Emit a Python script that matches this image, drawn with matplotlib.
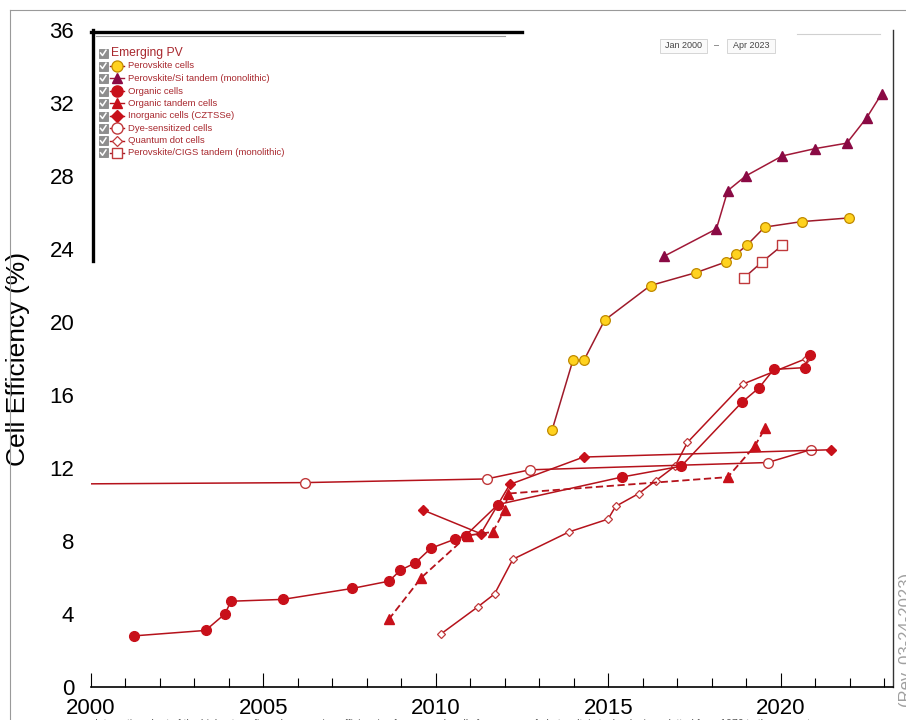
import matplotlib
matplotlib.use("Agg")
from matplotlib import pyplot as plt
from matplotlib.lines import Line2D
from matplotlib.patches import Rectangle

W, H = 906, 720

# ---- values: (year, efficiency %) ----
perovskite_x = [2013.37, 2013.97, 2014.29, 2014.89, 2016.22, 2017.53, 2018.42, 2018.69, 2019.01, 2019.53, 2020.60, 2021.96]
perovskite_y = [14.1, 17.9, 17.9, 20.1, 22.0, 22.7, 23.3, 23.7, 24.2, 25.2, 25.5, 25.7]

pvsi_x = [2016.61, 2018.13, 2018.46, 2018.98, 2020.04, 2020.99, 2021.91, 2022.49, 2022.92]
pvsi_y = [23.6, 25.1, 27.2, 28.0, 29.1, 29.5, 29.8, 31.2, 32.5]

organic_x = [2001.24, 2003.32, 2003.88, 2004.06, 2005.56, 2007.57, 2008.64, 2008.97, 2009.40, 2009.85,
             2010.55, 2010.86, 2011.80, 2015.38, 2017.11, 2018.87, 2019.37, 2019.79, 2020.69, 2020.83]
organic_y = [2.8, 3.1, 4.0, 4.7, 4.8, 5.4, 5.8, 6.4, 6.8, 7.6,
             8.1, 8.3, 10.0, 11.5, 12.1, 15.6, 16.4, 17.4, 17.5, 18.2]

org_tandem_x = [2008.63, 2009.58, 2010.92, 2011.65, 2011.99, 2012.09, 2018.46, 2019.24, 2019.55]
org_tandem_y = [3.7, 6.0, 8.3, 8.5, 9.7, 10.6, 11.5, 13.2, 14.2]

inorganic_x = [2009.62, 2011.30, 2012.14, 2014.28, 2021.46]
inorganic_y = [9.7, 8.4, 11.1, 12.6, 13.0]

dye_x = [1997.0, 2006.19, 2011.47, 2012.72, 2019.62, 2020.86]
dye_y = [11.1, 11.2, 11.4, 11.9, 12.3, 13.0]

qdot_x = [2010.14, 2011.22, 2011.70, 2012.23, 2013.86, 2014.99, 2015.21, 2015.88, 2016.37, 2016.93,
          2017.29, 2018.90, 2020.74]
qdot_y = [2.9, 4.4, 5.1, 7.0, 8.5, 9.2, 9.9, 10.6, 11.3, 12.1, 13.4, 16.6, 18.0]

pvcigs_x = [2018.92, 2019.46, 2020.04]
pvcigs_y = [22.4, 23.3, 24.2]

legend_labels = ["Perovskite cells", "Perovskite/Si tandem (monolithic)", "Organic cells",
                 "Organic tandem cells", "Inorganic cells (CZTSSe)", "Dye-sensitized cells",
                 "Quantum dot cells", "Perovskite/CIGS tandem (monolithic)"]

RED = "#C8101A"
LINE = "#B5121B"
DARK = "#9E1A2A"
PURPLE = "#8A0A44"

styles = [
    (qdot_x, qdot_y, dict(color=LINE, lw=1.1, marker="D", ms=4.5, mfc="white", mec="#C0393B", mew=0.9)),
    (dye_x, dye_y, dict(color=LINE, lw=1.1, marker="o", ms=7, mfc="white", mec="#C0393B", mew=1.0)),
    (inorganic_x, inorganic_y, dict(color=LINE, lw=1.1, marker="D", ms=5, mfc=RED, mec=RED)),
    (org_tandem_x, org_tandem_y, dict(color=LINE, lw=1.3, ls=(0, (4, 2)), marker="^", ms=6.5, mfc=RED, mec=RED)),
    (organic_x, organic_y, dict(color=LINE, lw=1.1, marker="o", ms=7, mfc=RED, mec=RED)),
    (pvcigs_x, pvcigs_y, dict(color=DARK, lw=1.1, marker="s", ms=6.5, mfc="white", mec="#C0393B", mew=1.0)),
    (perovskite_x, perovskite_y, dict(color=DARK, lw=1.1, marker="o", ms=7, mfc="#FFD21F", mec="#C08A00", mew=0.9)),
    (pvsi_x, pvsi_y, dict(color="#A01838", lw=1.1, marker="^", ms=6.5, mfc=PURPLE, mec=PURPLE)),
]

plt.rcParams['font.family'] = ['Liberation Sans', 'DejaVu Sans']

fig = plt.figure(figsize=(W / 100, H / 100), dpi=100)
ax = fig.add_axes([91 / W, 1 - 687 / H, 802 / W, 657 / H])


def px(x, y):
    return x / W, 1 - y / H


for xs, ys, st in styles:
    ax.plot(xs, ys, **st)

ax.set_xlim(2000, 2023.25)
ax.set_ylim(0, 36)
ax.set_xticks(range(2000, 2021, 5))
ax.set_xticks(range(2000, 2024), minor=True)
ax.set_yticks(range(0, 37, 4))
ax.tick_params(axis="x", which="major", direction="in", length=10, width=0.8, labelsize=16, pad=8)
ax.tick_params(axis="x", which="minor", direction="in", length=6.5, width=0.8)
ax.tick_params(axis="y", length=0, labelsize=16, pad=12)
ax.set_ylabel("Cell Efficiency (%)", fontsize=19)
ax.yaxis.set_label_coords(-0.076, 0.5)

for s in ["top", "left"]:
    ax.spines[s].set_visible(False)
ax.spines["right"].set_color("#333333")
ax.spines["right"].set_linewidth(1.0)
ax.spines["bottom"].set_linewidth(1.2)

# partial thick frame lines as in the screenshot
fig.add_artist(Line2D([px(91, 0)[0], px(522, 0)[0]], [px(0, 31.5)[1]] * 2, color="black", lw=2.4))
fig.add_artist(Line2D([px(93, 0)[0]] * 2, [px(0, 30)[1], px(0, 261)[1]], color="black", lw=2.4))
fig.add_artist(Line2D([px(96, 0)[0], px(505, 0)[0]], [px(0, 35.5)[1]] * 2, color="#9a9a9a", lw=0.8))
fig.add_artist(Line2D([px(797, 0)[0], px(880, 0)[0]], [px(0, 34)[1]] * 2, color="#d0d0d0", lw=0.8))

# outer screenshot border
fig.add_artist(Line2D([px(10, 0)[0]] * 2, [px(0, 10)[1], 0], color="#9a9a9a", lw=0.8))
fig.add_artist(Line2D([px(10, 0)[0], 1], [px(0, 10)[1]] * 2, color="#9a9a9a", lw=0.8))

# legend with check boxes
TXT = "#A8282E"


def checkbox(y):
    x0, y0 = px(98.5, y + 4.5)
    fig.add_artist(Rectangle((x0, y0), 9 / W, 9 / H, transform=fig.transFigure,
                             facecolor="#8e8e8e", edgecolor="#7a7a7a", lw=0.5))
    cx = [px(100.5, 0)[0], px(102.5, 0)[0], px(106, 0)[0]]
    cy = [px(0, y)[1], px(0, y + 2.5)[1], px(0, y - 2.8)[1]]
    fig.add_artist(Line2D(cx, cy, color="white", lw=1.1))


checkbox(53)
fig.text(*px(111, 53), "Emerging PV", fontsize=8.7, color=TXT, va="center")

row_y = [66, 78.4, 91, 103.4, 116, 128.4, 140.8, 152.8]
for (xs, ys, st), label, y in zip([styles[6], styles[7], styles[4], styles[3], styles[2],
                                   styles[1], styles[0], styles[5]], legend_labels, row_y):
    checkbox(y)
    lx = [px(110, 0)[0], px(124, 0)[0]]
    ly = [px(0, y)[1]] * 2
    fig.add_artist(Line2D(lx, ly, color=st["color"], lw=1.0))
    mk = {k: v for k, v in st.items() if k in ("marker", "mfc", "mec", "mew")}
    fig.add_artist(Line2D([px(117, 0)[0]], [px(0, y)[1]], ms=st["ms"] + 1, **mk))
    fig.text(*px(128, y), label, fontsize=6.8, color=TXT, va="center")

# date range boxes
for x0, x1, s in [(660, 707, "Jan 2000"), (727, 775, "Apr 2023")]:
    fig.add_artist(Rectangle(px(x0, 53), (x1 - x0) / W, 13.5 / H, transform=fig.transFigure,
                             facecolor="#fafafa", edgecolor="#cfcfcf", lw=0.6))
    fig.text(*px((x0 + x1) / 2, 46), s, fontsize=6.5, color="#444444", ha="center", va="center")
fig.text(*px(716.5, 46), "\u2013", fontsize=6.5, color="#555555", ha="center", va="center")

# revision stamp and footnote, cut off by the screenshot edges
fig.text(*px(906, 640), "(Rev. 03-24-2023)", rotation=90, fontsize=12, color="#a0a0a0",
         ha="center", va="center")
fig.text(*px(95, 724), "Interactive chart of the highest confirmed conversion efficiencies for research cells "
                       "for a range of photovoltaic technologies, plotted from 1976 to the present.",
         fontsize=7.5, color="#555555", va="center")

fig.savefig("out.png", dpi=100)
